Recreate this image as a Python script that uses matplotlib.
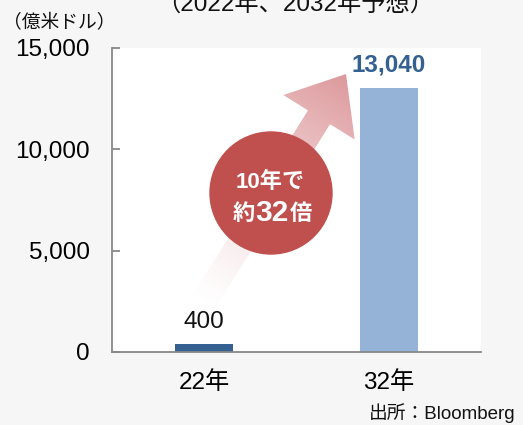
# 2022 vs 2032 market size bar chart
import numpy as np
import matplotlib
matplotlib.use('Agg')
import matplotlib.pyplot as plt
from matplotlib.patches import Polygon, Circle

plt.rcParams['font.family'] = ['Liberation Sans', 'Noto Sans CJK JP']

# data
years = ['22年', '32年']
values = [400, 13040]
value_labels = ['400', '13,040']
bar_colors = ['#346092', '#95b3d7']
label_colors = ['#111111', '#346092']
label_weights = ['normal', 'bold']
yticks = [0, 5000, 10000, 15000]
ytick_labels = ['0', '5,000', '10,000', '15,000']

fig = plt.figure(figsize=(5.23, 4.25), dpi=100, facecolor='#f6f6f6')
ax = fig.add_axes([0.2141, 0.1718, 0.7056, 0.7153])
ax.set_facecolor('white')

x = np.arange(len(years))
ax.bar(x, values, width=0.315, color=bar_colors, zorder=2)
for xi, v, lab, c, w in zip(x, values, value_labels, label_colors, label_weights):
    ax.annotate(lab, (xi, v), xytext=(0, 8), textcoords='offset points',
                ha='center', va='bottom', fontsize=17.5, color=c, fontweight=w)

ax.set_xlim(-0.5, 1.5)
ax.set_ylim(0, 15000)
ax.set_xticks(x)
ax.set_xticklabels(years, fontsize=17.5)
ax.set_yticks(yticks)
ax.set_yticklabels(ytick_labels, fontsize=17.5)
ax.tick_params(axis='x', length=0, pad=14)
ax.tick_params(axis='y', direction='in', length=5.5, width=1.3, color='#888888', pad=16)
for s in ['top', 'right']:
    ax.spines[s].set_visible(False)
for s in ['left', 'bottom']:
    ax.spines[s].set_color('#888888')
    ax.spines[s].set_linewidth(1.3)

# overlay in pixel coordinates for the arrow and circle
ov = fig.add_axes([0, 0, 1, 1], facecolor='none')
ov.set_xlim(0, 523)
ov.set_ylim(425, 0)
ov.axis('off')

tip = np.array([346.0, 74.0])
d = np.array([0.53, -0.85])
d = d / np.linalg.norm(d)
n = np.array([-d[1], d[0]])
base = tip - 51 * d
tail = base - 222 * d
hw, sw = 42, 13
pts = [tail + sw * n, base + sw * n, base + hw * n, tip,
       base - hw * n, base - sw * n, tail - sw * n]
poly = Polygon(pts, closed=True, facecolor='none', edgecolor='none')
ov.add_patch(poly)

gx, gy = np.meshgrid(np.arange(523) + 0.5, np.arange(425) + 0.5)
t = ((gx - tail[0]) * d[0] + (gy - tail[1]) * d[1]) / np.linalg.norm(tip - tail)
t = np.clip(t, 0, 1)
img = np.zeros((425, 523, 4))
img[..., 0] = 0.86
img[..., 1] = 0.58
img[..., 2] = 0.59
img[..., 3] = 0.95 * t ** 1.3
im = ov.imshow(img, extent=[0, 523, 425, 0], interpolation='bilinear', zorder=1)
im.set_clip_path(poly)
ov.set_xlim(0, 523)
ov.set_ylim(425, 0)

ov.add_patch(Circle((271, 193), 61, color='#c0504d', zorder=3))
ov.text(270, 182, '10年で', ha='center', va='center', fontsize=16,
        fontweight='bold', color='white', zorder=4)
ov.text(244, 214, '約', ha='center', va='center', fontsize=16,
        fontweight='bold', color='white', zorder=4)
ov.text(272, 213, '32', ha='center', va='center', fontsize=21.5,
        fontweight='bold', color='white', zorder=4)
ov.text(301, 214, '倍', ha='center', va='center', fontsize=16,
        fontweight='bold', color='white', zorder=4)

# titles and notes
ov.text(295, 12, '（2022年、2032年予想）', ha='center', va='baseline',
        fontsize=17.5, color='#111111')
ov.text(3, 23, '（億米ドル）', ha='left', va='center', fontsize=13.5, color='#111111')
ov.text(369, 413, '出所：Bloomberg', ha='left', va='center', fontsize=13.5,
        color='#111111')

fig.savefig('out.png', dpi=100, facecolor=fig.get_facecolor())
